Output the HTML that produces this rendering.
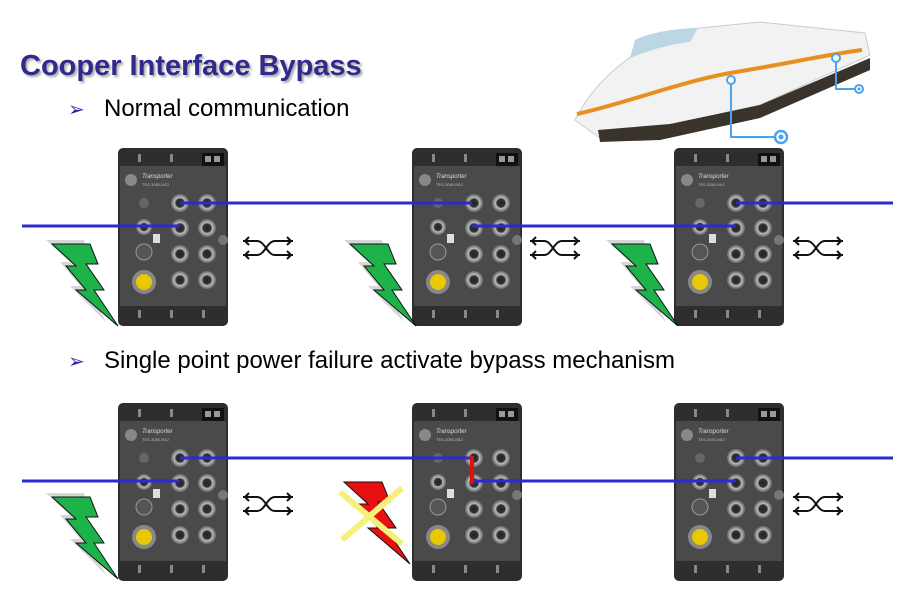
<!DOCTYPE html>
<html><head><meta charset="utf-8"><style>
html,body{margin:0;padding:0;background:#fff;}
svg{display:block;font-family:"Liberation Sans",sans-serif;}
</style></head><body>
<svg width="900" height="600" viewBox="0 0 900 600" xmlns="http://www.w3.org/2000/svg">
<defs>
<radialGradient id="port" cx="50%" cy="50%" r="50%">
<stop offset="0" stop-color="#222"/><stop offset="0.45" stop-color="#333"/><stop offset="0.6" stop-color="#bbb"/><stop offset="1" stop-color="#666"/>
</radialGradient>
<g id="dev">
<rect x="0" y="0" width="110" height="178" rx="5" fill="#2e2e2e"/>
<rect x="2" y="18" width="106" height="140" fill="#4a4a4a"/>
<rect x="84" y="5" width="22" height="13" fill="#111"/>
<rect x="87" y="8" width="6" height="6" fill="#999"/><rect x="96" y="8" width="6" height="6" fill="#999"/>
<circle cx="13" cy="32" r="6" fill="#888"/>
<text x="24" y="30" font-size="6" font-style="italic" fill="#ddd">Transporter</text>
<text x="24" y="38" font-size="4" fill="#bbb">TES-3080-M12</text>
<circle cx="26" cy="55" r="5" fill="#666"/>
<circle cx="26" cy="79" r="8" fill="url(#port)"/>
<rect x="35" y="86" width="7" height="9" fill="#ddd"/>
<circle cx="26" cy="104" r="8" fill="#555" stroke="#999"/>
<circle cx="26" cy="134" r="12" fill="#888"/>
<circle cx="26" cy="134" r="8" fill="#e8c800"/>
<g fill="url(#port)">
<circle cx="62" cy="55" r="9"/><circle cx="89" cy="55" r="9"/>
<circle cx="62" cy="80" r="9"/><circle cx="89" cy="80" r="9"/>
<circle cx="62" cy="106" r="9"/><circle cx="89" cy="106" r="9"/>
<circle cx="62" cy="132" r="9"/><circle cx="89" cy="132" r="9"/>
</g>
<circle cx="105" cy="92" r="5" fill="#777"/>
<g fill="#888"><rect x="20" y="162" width="3" height="8"/><rect x="52" y="162" width="3" height="8"/><rect x="84" y="162" width="3" height="8"/>
<rect x="20" y="6" width="3" height="8"/><rect x="52" y="6" width="3" height="8"/></g>
</g>
<g id="byp" fill="none" stroke="#111" stroke-width="2">
<path d="M0 10 H14 C22 10 24 24 32 24 H50"/>
<path d="M0 24 H14 C22 24 24 10 32 10 H50"/>
<path d="M6 6 L2 10 L6 14 M44 6 L48 10 L44 14 M6 20 L2 24 L6 28 M44 20 L48 24 L44 28"/>
</g>
<g id="bolt">
<polygon points="-6,-4 32,-4 38,14 26,14 44,40 34,40 54,78 18,42 28,42 8,18 18,18" fill="#bbb" opacity="0.6"/>
<polygon points="0,0 38,0 46,20 34,20 52,46 42,46 66,82 24,46 34,46 14,22 24,22" fill="#1db34a" stroke="#111" stroke-width="1"/>
</g>
</defs>

<text x="20" y="75" font-size="29" font-weight="bold" fill="#2f2a8c" style="text-shadow:2px 2px 2px #aaa">Cooper Interface Bypass</text>
<text x="68" y="116" font-size="20" fill="#2f2aa8">➢</text>
<text x="104" y="116" font-size="24" fill="#000">Normal communication</text>
<text x="68" y="368" font-size="20" fill="#2f2aa8">➢</text>
<text x="104" y="368" font-size="24" fill="#000">Single point power failure activate bypass mechanism</text>

<!-- train -->
<g>
<path d="M575 120 C590 90 620 55 680 30 L760 22 L865 33 L870 55 L760 105 L670 125 L600 138 Z" fill="#f2f2f2" stroke="#ccc"/>
<path d="M598 130 L670 124 L760 105 L870 58 L870 70 L760 118 L660 140 L600 142 Z" fill="#3a332b"/>
<path d="M635 40 C650 32 680 28 698 28 L690 42 C670 44 650 50 630 58 Z" fill="#bcd6e4"/>
<path d="M577 114 C620 105 680 82 730 73 C780 65 830 54 862 50" fill="none" stroke="#e8901e" stroke-width="4"/>
<polyline points="731,80 731,137 781,137" fill="none" stroke="#4ba3ee" stroke-width="2"/>
<polyline points="836,58 836,89 859,89" fill="none" stroke="#4ba3ee" stroke-width="2"/>
<circle cx="731" cy="80" r="4" fill="#fff" stroke="#4ba3ee" stroke-width="2"/>
<circle cx="781" cy="137" r="6" fill="#fff" stroke="#4ba3ee" stroke-width="2.5"/><circle cx="781" cy="137" r="2.5" fill="#4ba3ee"/>
<circle cx="836" cy="58" r="4" fill="#fff" stroke="#4ba3ee" stroke-width="2"/>
<circle cx="859" cy="89" r="4" fill="#fff" stroke="#4ba3ee" stroke-width="2"/><circle cx="859" cy="89" r="1.5" fill="#4ba3ee"/>
</g>

<!-- top row -->
<use href="#dev" x="118" y="148"/><use href="#dev" x="412" y="148"/><use href="#dev" x="674" y="148"/>
<use href="#byp" x="243" y="231"/><use href="#byp" x="530" y="231"/><use href="#byp" x="793" y="231"/>
<use href="#bolt" x="52" y="244"/><use href="#bolt" x="350" y="244"/><use href="#bolt" x="612" y="244"/>
<g stroke="#2b2bd0" stroke-width="3" fill="none">
<line x1="22" y1="226" x2="180" y2="226"/>
<line x1="180" y1="203" x2="472" y2="203"/>
<line x1="472" y1="226" x2="736" y2="226"/>
<line x1="736" y1="203" x2="893" y2="203"/>
</g>

<!-- bottom row -->
<use href="#dev" x="118" y="403"/><use href="#dev" x="412" y="403"/><use href="#dev" x="674" y="403"/>
<use href="#byp" x="243" y="487"/><use href="#byp" x="793" y="487"/>
<use href="#bolt" x="52" y="497"/>
<g>
<polygon points="344,482 382,482 390,502 378,502 396,528 386,528 410,564 368,528 378,528 358,504 368,504" fill="#e81010" stroke="#111"/>
<line x1="340" y1="492" x2="402" y2="544" stroke="#f5f07a" stroke-width="6"/>
<line x1="402" y1="488" x2="342" y2="540" stroke="#f5f07a" stroke-width="6"/>
</g>
<g stroke="#2b2bd0" stroke-width="3" fill="none">
<line x1="22" y1="481" x2="180" y2="481"/>
<line x1="180" y1="458" x2="472" y2="458"/>
<line x1="472" y1="481" x2="736" y2="481"/>
<line x1="736" y1="458" x2="893" y2="458"/>
</g>
<line x1="472" y1="456" x2="472" y2="484" stroke="#e01010" stroke-width="4"/>
</svg>
</body></html>
